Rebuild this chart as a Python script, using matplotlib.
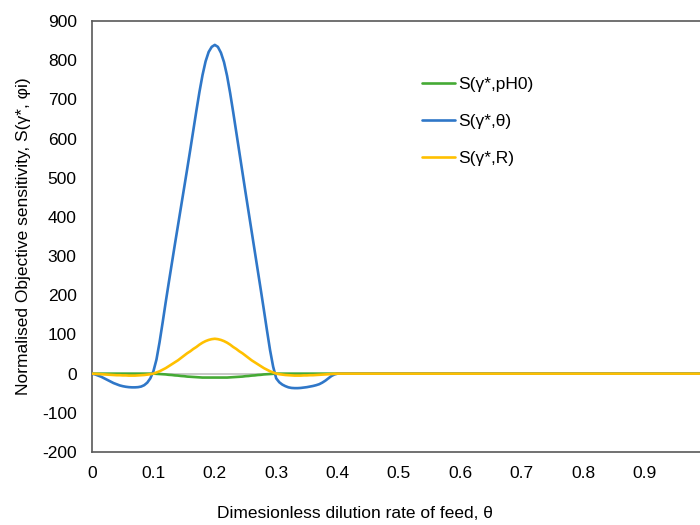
import matplotlib
matplotlib.use("Agg")
import matplotlib.pyplot as plt

plt.rcParams['font.family'] = ['Liberation Sans', 'DejaVu Sans']
plt.rcParams['axes.unicode_minus'] = False

theta = [0.000, 0.005, 0.010, 0.015, 0.020, 0.025, 0.030, 0.035, 0.040, 0.045,
         0.050, 0.055, 0.060, 0.065, 0.070, 0.075, 0.080, 0.085, 0.090, 0.095,
         0.100, 0.105, 0.110, 0.115, 0.120, 0.125, 0.130, 0.135, 0.140, 0.145,
         0.150, 0.155, 0.160, 0.165, 0.170, 0.175, 0.180, 0.185, 0.190, 0.195,
         0.200, 0.205, 0.210, 0.215, 0.220, 0.225, 0.230, 0.235, 0.240, 0.245,
         0.250, 0.255, 0.260, 0.265, 0.270, 0.275, 0.280, 0.285, 0.290, 0.295,
         0.300, 0.305, 0.310, 0.315, 0.320, 0.325, 0.330, 0.335, 0.340, 0.345,
         0.350, 0.355, 0.360, 0.365, 0.370, 0.375, 0.380, 0.385, 0.390, 0.395,
         0.400, 0.500, 0.600, 0.700, 0.800, 0.900, 1.000]

s_ph0 = [0, 0, 0, 0, 0, 0, 0, 0, 0, 0,
         0, 0, 0, 0, 0, 0, 0, 0, 0, 0,
         0, -0.5, -1, -1.5, -2, -3, -3.5, -4.5, -5, -6,
         -6.5, -7.5, -8, -8.5, -9, -9.5, -10, -10, -10, -10,
         -10, -10, -10, -10, -10, -9.5, -9, -8.5, -8, -7.5,
         -6.5, -6, -5, -4.5, -3.5, -3, -2, -1.5, -1, -0.5,
         0, 0, 0, 0, 0, 0, 0, 0, 0, 0,
         0, 0, 0, 0, 0, 0, 0, 0, 0, 0,
         0, 0, 0, 0, 0, 0, 0]

s_theta = [0, -2, -5, -8, -12, -16, -20, -24, -27, -30,
           -32, -33.5, -34.5, -35, -35, -34.5, -33, -29.5, -23, -12,
           6, 36, 80, 130, 182, 232, 281, 330, 378, 426,
           474, 522, 571, 621, 671, 719, 762, 797, 821, 834,
           839, 834, 819, 795, 760, 716, 667, 616, 565, 514,
           463, 413, 363, 313, 263, 213, 162, 110, 60, 18,
           -12, -22, -28, -32, -35, -36.5, -37, -37, -36.5, -35.5,
           -34.5, -33, -31.5, -29.5, -27, -23, -18, -12, -6, -2,
           0, 0, 0, 0, 0, 0, 0]

s_r = [0, -0.5, -1, -1.5, -2, -2.5, -3, -3.5, -4, -4,
       -4.5, -4.5, -5, -5, -5, -4.5, -4, -3.5, -2.5, -1.5,
       0, 3, 6, 10, 14, 19, 24, 29, 34, 40,
       46, 52, 57, 63, 68, 74, 79, 83, 86, 88,
       89, 88, 86, 83, 79, 74, 68, 63, 57, 52,
       46, 40, 34, 29, 24, 19, 14, 10, 6, 3,
       0, -1.5, -2.5, -3.5, -4, -4.5, -5, -5, -5, -4.5,
       -4.5, -4, -4, -3.5, -3, -2.5, -2, -1.5, -1, -0.5,
       0, 0, 0, 0, 0, 0, 0]

labels = ['S(\u03b3*,pH0)', 'S(\u03b3*,\u03b8)', 'S(\u03b3*,R)']
colors = ['#45AA35', '#2F77C8', '#FFC000']

x_ticks = [0, 0.1, 0.2, 0.3, 0.4, 0.5, 0.6, 0.7, 0.8, 0.9, 1.0]
x_ticklabels = ['0', '0.1', '0.2', '0.3', '0.4', '0.5', '0.6', '0.7', '0.8', '0.9', '1']
y_ticks = [-200, -100, 0, 100, 200, 300, 400, 500, 600, 700, 800, 900]

FS = 12.5

fig = plt.figure(figsize=(7, 5.25), dpi=100)
ax = fig.add_axes([92/700, 73/525, 614/700, 431/525])

ax.axhline(0, color='#BFBFBF', lw=1.2, zorder=1)
for vals, lab, col in zip([s_ph0, s_theta, s_r], labels, colors):
    ax.plot(theta, vals, color=col, lw=1.9, label=lab, zorder=3,
            solid_joinstyle='round', solid_capstyle='round')

ax.set_xlim(0, 1)
ax.set_ylim(-200, 900)
ax.set_xticks(x_ticks)
ax.set_xticklabels(x_ticklabels)
ax.set_yticks(y_ticks)
ax.tick_params(axis='both', length=0, labelsize=FS, colors='#000000')
ax.tick_params(axis='y', pad=11)
ax.tick_params(axis='x', pad=10)

for sp in ax.spines.values():
    sp.set_color('#595959')
    sp.set_linewidth(1.2)

ax.set_xlabel('Dimesionless dilution rate of feed, \u03b8', fontsize=FS)
ax.xaxis.set_label_coords((355-92)/614, -(506-452)/431)
ax.set_ylabel('Normalised Objective sensitivity, S(\u03b3*, \u03c6i)', fontsize=FS)
ax.yaxis.set_label_coords(-(92-31)/614, 0.5)

leg = ax.legend(loc='upper left', bbox_to_anchor=((415-92)/614, (452-70)/431), frameon=False,
                fontsize=FS, handlelength=1.9, handletextpad=0.2,
                labelspacing=1.25, borderaxespad=0)

fig.savefig('out.png', dpi=100)
